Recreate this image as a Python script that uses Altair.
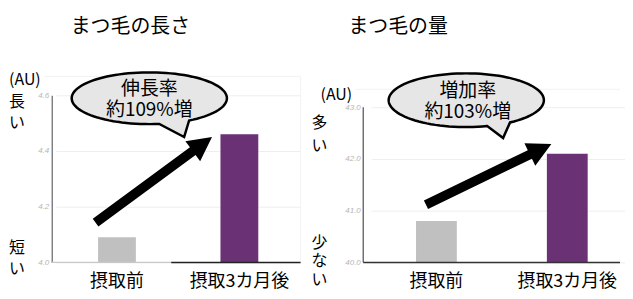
import math
import altair as alt
import pandas as pd

# ---------------- data ----------------
cats = ["摂取前", "摂取3カ月後"]
length_vals = [4.09, 4.46]
volume_vals = [40.8, 42.1]
length_ticks = [4.0, 4.2, 4.4, 4.6]
volume_ticks = [40.0, 41.0, 42.0, 43.0]
bar_colors = ["#c0c0c0", "#6a3175"]
panel_titles = ["まつ毛の長さ", "まつ毛の量"]
bubble_left = ["伸長率", "約109%増"]
bubble_right = ["増加率", "約103%増"]
unit_label = "(AU)"
left_hi = ["長", "い"]
left_lo = ["短", "い"]
right_hi = ["多", "い"]
right_lo = ["少", "な", "い"]

# ---------------- layout constants ----------------
FONT = "Noto Sans CJK JP"
W1, W2, H = 250, 258, 168
LEFT, TOP, TOTAL_W, TOTAL_H = 44, 87, 617, 283
GAP = 63
PX_PER_UNIT_R = 52.0

one = pd.DataFrame({"k": [0]})


def text_at(s, x, y, size=18, color="black", font=FONT):
    return alt.Chart(one).mark_text(
        text=s, font=font, fontSize=size, color=color,
        align="center", baseline="middle"
    ).encode(x=alt.value(x), y=alt.value(y))


def rule_px(x1, x2, y1, y2, color, width=1.0):
    return alt.Chart(one).mark_rule(color=color, strokeWidth=width).encode(
        x=alt.value(x1), x2=alt.value(x2), y=alt.value(y1), y2=alt.value(y2)
    )


def bubble_path(rx, ry, lb, rb, tip, n=96):
    tl = math.acos(lb / rx)
    tr = math.acos(rb / rx) + 2 * math.pi
    pts = []
    for i in range(n + 1):
        t = tl + (tr - tl) * i / n
        pts.append((rx * math.cos(t), ry * math.sin(t)))
    pts.append(tip)
    return "M" + "L".join(f"{x:.2f},{y:.2f}" for x, y in pts) + "Z"


def arrow_path(dx, dy, shaft=4.8, head_w=12.5, head_l=24):
    L = math.hypot(dx, dy)
    ux, uy = dx / L, dy / L
    nx, ny = -uy, ux
    b = L - head_l
    pts = [
        (nx * shaft, ny * shaft),
        (ux * b + nx * shaft, uy * b + ny * shaft),
        (ux * b + nx * head_w, uy * b + ny * head_w),
        (dx, dy),
        (ux * b - nx * head_w, uy * b - ny * head_w),
        (ux * b - nx * shaft, uy * b - ny * shaft),
        (-nx * shaft, -ny * shaft),
    ]
    return "M" + "L".join(f"{x:.2f},{y:.2f}" for x, y in pts) + "Z"


def shape_at(path, x, y, fill, stroke="", sw=0.0):
    kw = dict(shape=path, size=4, filled=True, fill=fill, opacity=1)
    if stroke:
        kw.update(stroke=stroke, strokeWidth=sw)
    else:
        kw.update(strokeWidth=0)
    return alt.Chart(one).mark_point(**kw).encode(x=alt.value(x), y=alt.value(y))


def x_axis():
    return alt.Axis(
        title=None, domain=False, ticks=False, labelAngle=0,
        labelFont=FONT, labelFontSize=18, labelColor="black", labelPadding=10,
    )


def y_axis(values, domain):
    kw = dict(
        title=None, values=values, format=".1f", ticks=False,
        labelFont="Liberation Sans", labelFontSize=8, labelFontStyle="italic",
        labelColor="#b5b5b5", labelPadding=3,
        grid=True, gridColor="#eeeeee", gridWidth=1,
        domain=domain,
    )
    if domain:
        kw.update(domainColor="#808080", domainWidth=1.5)
    return alt.Axis(**kw)


color_enc = alt.Color("cat:N", scale=alt.Scale(domain=cats, range=bar_colors), legend=None)

# frame that fixes the whole drawing's bounds (invisible)
frame = alt.Chart(one).mark_rect(opacity=0).encode(
    x=alt.value(-LEFT), x2=alt.value(TOTAL_W - LEFT),
    y=alt.value(-TOP), y2=alt.value(TOTAL_H - TOP),
)

# ---------------- left panel ----------------
dfL = pd.DataFrame({"cat": cats, "val": length_vals, "base": [length_ticks[0]] * 2})
barsL = alt.Chart(dfL).mark_bar(size=38).encode(
    x=alt.X("cat:N", sort=cats,
            scale=alt.Scale(domain=cats, range=[4, 250], paddingInner=0, paddingOuter=0),
            axis=x_axis()),
    y=alt.Y("val:Q", scale=alt.Scale(domain=[4.0, 4.6], nice=False, zero=False),
            axis=y_axis(length_ticks, True)),
    y2=alt.Y2("base:Q"),
    color=color_enc,
)

left_layers = [
    frame,
    rule_px(-8, W1, -19, -19, "#f2f2f2"),
    rule_px(W1, W1, -19, H, "#f2f2f2"),
    barsL,
    rule_px(0, 120, H, H, "#c8c8c8", 1.2),
    rule_px(120, W1, H, H, "#222222", 1.6),
    shape_at(arrow_path(117, -86), 44, 128, "black"),
    shape_at(bubble_path(78, 26, 10, 40, (35, 39)), 98, 3, "#e6e6e6", "black", 2.5),
    text_at(bubble_left[0], 98, -6, 19),
    text_at(bubble_left[1], 98, 15, 19),
    text_at(panel_titles[0], 79, -69, 20),
    text_at(unit_label, -27, -15, 16),
    text_at(left_hi[0], -35, 7, 16),
    text_at(left_hi[1], -35, 28, 16),
    text_at(left_lo[0], -35, 154, 16),
    text_at(left_lo[1], -35, 175, 16),
]
left = alt.layer(*left_layers).properties(width=W1, height=H)

# ---------------- right panel ----------------
top_r = 40.0 + H / PX_PER_UNIT_R
y43 = H - 3 * PX_PER_UNIT_R
dfR = pd.DataFrame({"cat": cats, "val": volume_vals, "base": [volume_ticks[0]] * 2})
barsR = alt.Chart(dfR).mark_bar(size=41).encode(
    x=alt.X("cat:N", sort=cats,
            scale=alt.Scale(domain=cats, range=[7.75, 270.75], paddingInner=0, paddingOuter=0),
            axis=x_axis()),
    y=alt.Y("val:Q", scale=alt.Scale(domain=[40.0, top_r], nice=False, zero=False),
            axis=y_axis(volume_ticks, False)),
    y2=alt.Y2("base:Q"),
    color=color_enc,
)

right_layers = [
    rule_px(-8, W2, -6, -6, "#f2f2f2"),
    barsR,
    rule_px(0, 0, y43, H, "#707070", 1.5),
    rule_px(0, W2, H, H, "#333333", 1.6),
    shape_at(arrow_path(126, -61), 63, 110, "black"),
    shape_at(bubble_path(78, 27, 21, 44, (37, 38)), 103.5, 5, "#e6e6e6", "black", 2.5),
    text_at(bubble_right[0], 105, -4, 19),
    text_at(bubble_right[1], 105, 17, 19),
    text_at(panel_titles[1], 35, -69, 20),
    text_at(unit_label, -27, 0, 16),
    text_at(right_hi[0], -44, 28, 16),
    text_at(right_hi[1], -44, 51, 16),
    text_at(right_lo[0], -44, 148, 16),
    text_at(right_lo[1], -44, 167, 16),
    text_at(right_lo[2], -44, 186, 16),
]
right = alt.layer(*right_layers).properties(width=W2, height=H)

chart = alt.hconcat(left, right, spacing=GAP, bounds="flush").properties(
    padding=0
).configure_view(strokeWidth=0)

chart.save("out.html", embed_options={"renderer": "svg", "actions": False})
